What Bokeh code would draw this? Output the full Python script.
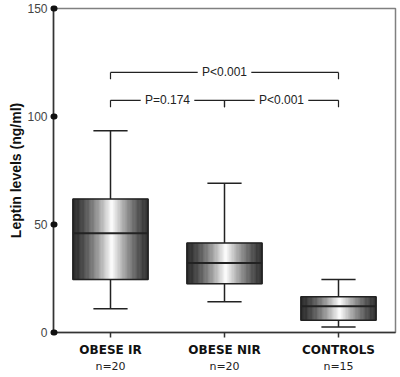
import numpy as np
from bokeh.plotting import figure
from bokeh.models import FixedTicker, LinearAxis, Range1d
from bokeh.core.properties import value
from bokeh.embed import file_html
from bokeh.resources import INLINE

# ---- data ----
categories = ["OBESE IR", "OBESE NIR", "CONTROLS"]
n_labels = ["n=20", "n=20", "n=15"]
whisker_low = [11.0, 14.2, 2.6]
q1 = [24.5, 22.6, 5.7]
median = [46.0, 32.2, 12.1]
q3 = [61.8, 41.4, 16.5]
whisker_high = [93.4, 69.1, 24.5]
y_ticks = [0, 50, 100, 150]

# comparisons: (group a, group b, label)
cmp_a = [0, 0, 1]
cmp_b = [2, 1, 2]
cmp_label = ["P<0.001", "P=0.174", "P<0.001"]
cmp_level = [120.4, 107.5, 107.5]

# ---- styling / geometry ----
BOX_HALF = 0.33
CAP_HALF = 0.15
TICK_LEN = 3.2
GAP_HALF = 0.235
DARK = "#222222"

centers = [i + 0.5 for i in range(len(categories))]

p = figure(width=398, height=375, output_backend="svg", toolbar_location=None,
           x_range=Range1d(0, 3), y_range=Range1d(0, 150),
           min_border=0, min_border_top=8, min_border_right=3,
           min_border_left=53, min_border_bottom=42)
p.xgrid.visible = False
p.ygrid.visible = False
p.outline_line_color = "#808080"
p.outline_line_width = 1.5
p.background_fill_color = "white"
p.border_fill_color = "white"

# gradient boxes drawn as thin vertical strips
N = 60
for i, c in enumerate(centers):
    edges = np.linspace(c - BOX_HALF, c + BOX_HALF, N + 1)
    t = (np.arange(N) + 0.5) / N
    shade = 1 - np.abs(t - 0.52) / 0.52
    g = (38 + 217 * np.clip(shade, 0, 1) ** 1.4).astype(int)
    cols = ["#%02x%02x%02x" % (v, v, v) for v in g]
    p.quad(left=edges[:-1], right=edges[1:], bottom=[q1[i]] * N, top=[q3[i]] * N,
           fill_color=cols, line_color=cols, line_width=0.6)

# box outlines
p.quad(left=[c - BOX_HALF for c in centers], right=[c + BOX_HALF for c in centers],
       bottom=q1, top=q3, fill_color=None, line_color=DARK, line_width=1.5)
# medians
p.segment(x0=[c - BOX_HALF for c in centers], x1=[c + BOX_HALF for c in centers],
          y0=median, y1=median, line_color=DARK, line_width=2)
# whiskers
p.segment(x0=centers, x1=centers, y0=q3, y1=whisker_high, line_color=DARK, line_width=1.5)
p.segment(x0=centers, x1=centers, y0=q1, y1=whisker_low, line_color=DARK, line_width=1.5)
p.segment(x0=[c - CAP_HALF for c in centers], x1=[c + CAP_HALF for c in centers],
          y0=whisker_high, y1=whisker_high, line_color=DARK, line_width=1.5)
p.segment(x0=[c - CAP_HALF for c in centers], x1=[c + CAP_HALF for c in centers],
          y0=whisker_low, y1=whisker_low, line_color=DARK, line_width=1.5)

# comparison brackets
sx0, sx1, sy0, sy1 = [], [], [], []
tx, ty = [], []
for a, b, lab, lev in zip(cmp_a, cmp_b, cmp_label, cmp_level):
    xa, xb = centers[a], centers[b]
    xm = (xa + xb) / 2
    tx.append(xm); ty.append(lev)
    sx0 += [xa, xm + GAP_HALF, xa, xb]
    sx1 += [xm - GAP_HALF, xb, xa, xb]
    sy0 += [lev, lev, lev, lev]
    sy1 += [lev, lev, lev - TICK_LEN, lev - TICK_LEN]
p.segment(x0=sx0, x1=sx1, y0=sy0, y1=sy1, line_color=DARK, line_width=1.2)
p.text(x=tx, y=ty, text=cmp_label, text_align="center", text_baseline="middle",
       text_font=value("Liberation Sans"), text_font_size="12px", text_color=DARK)

# y axis
ya = p.yaxis[0]
ya.ticker = FixedTicker(ticks=y_ticks)
ya.minor_tick_line_color = None
ya.major_tick_line_width = 6
ya.major_tick_line_cap = "round"
ya.major_tick_line_color = "#111111"
ya.major_tick_in = 1
ya.major_tick_out = 0
ya.major_label_standoff = 6
ya.major_label_text_font = "Liberation Sans"
ya.major_label_text_font_size = "12px"
ya.major_label_text_color = "#444444"
ya.axis_line_color = "#333333"
ya.axis_line_width = 1.5
ya.axis_label = "Leptin levels (ng/ml)"
ya.axis_label_text_font = "Liberation Sans"
ya.axis_label_text_font_size = "14px"
ya.axis_label_text_font_style = "bold"
ya.axis_label_text_color = "#111111"
ya.axis_label_standoff = 0

# x axis (group names)
xa = p.xaxis[0]
xa.ticker = FixedTicker(ticks=centers)
xa.major_label_overrides = {c: lab for c, lab in zip(centers, categories)}
xa.minor_tick_line_color = None
xa.major_tick_in = 0
xa.major_tick_out = 5
xa.major_tick_line_width = 1.5
xa.major_tick_line_color = "#333333"
xa.axis_line_color = "#333333"
xa.axis_line_width = 1.5
xa.major_label_standoff = 5
xa.major_label_text_font = "DejaVu Sans"
xa.major_label_text_font_size = "12px"
xa.major_label_text_font_style = "bold"
xa.major_label_text_color = "#111111"

# second x axis (n labels)
xn = LinearAxis(ticker=FixedTicker(ticks=centers),
                major_label_overrides={c: lab for c, lab in zip(centers, n_labels)})
xn.axis_line_color = None
xn.major_tick_line_color = None
xn.minor_tick_line_color = None
xn.major_tick_out = 0
xn.major_tick_in = 0
xn.major_label_standoff = 0
xn.major_label_text_font = "DejaVu Sans"
xn.major_label_text_font_size = "11px"
xn.major_label_text_color = "#222222"
p.add_layout(xn, "below")

open("out.html", "w").write(file_html(p, INLINE))
